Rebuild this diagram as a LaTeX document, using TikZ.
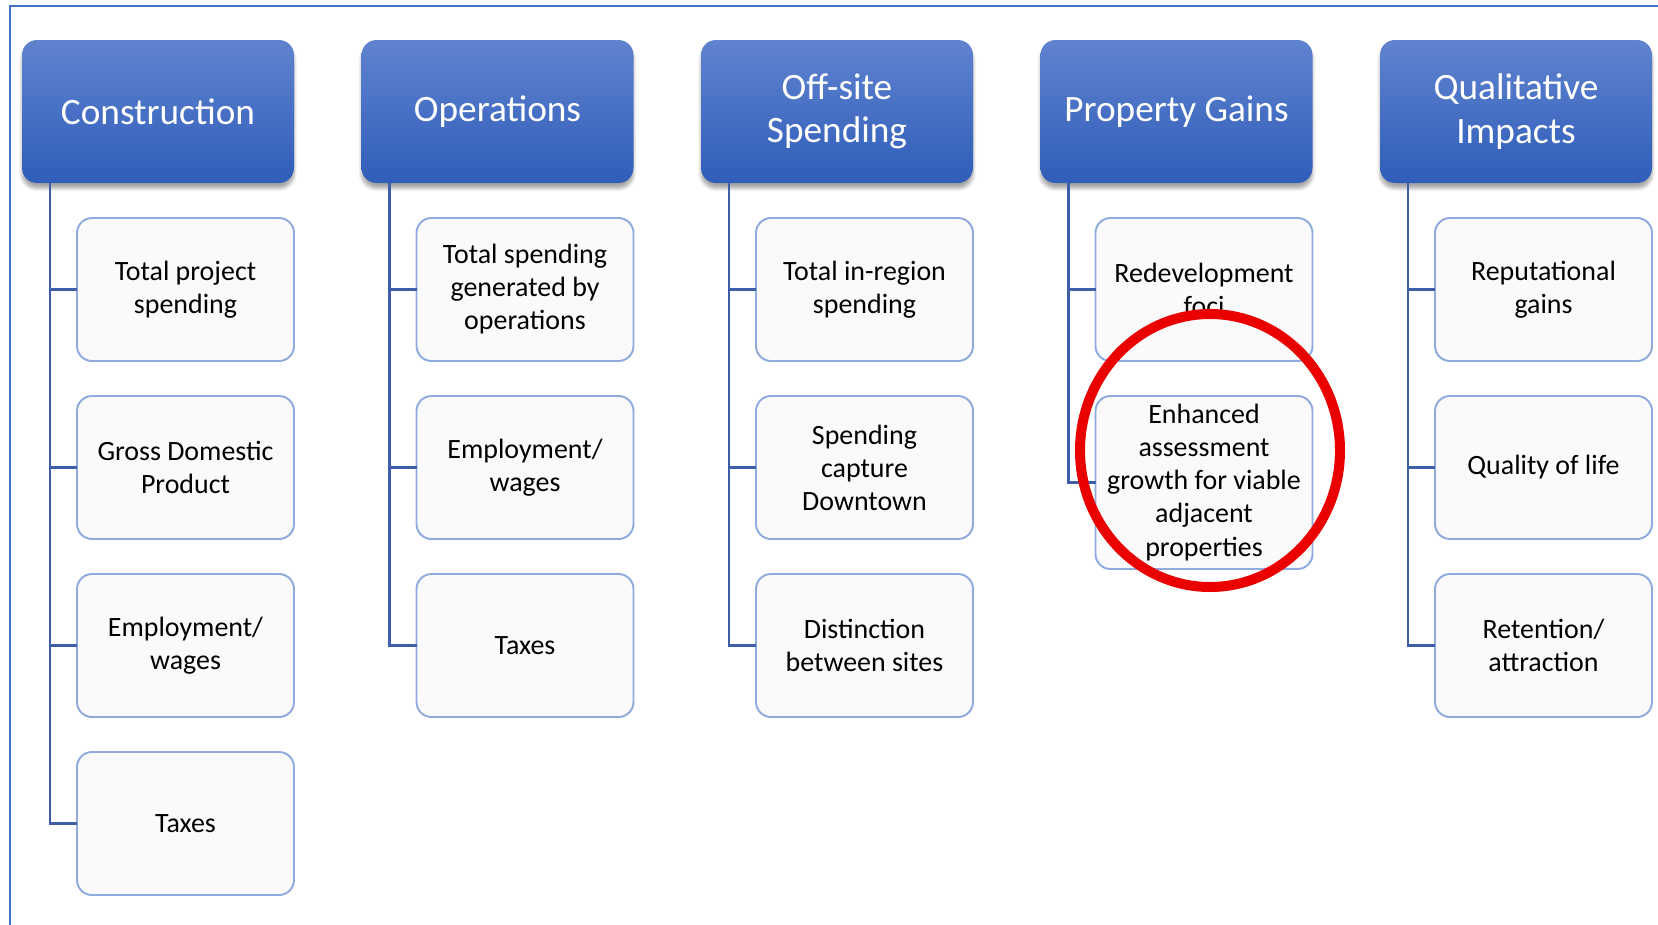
\documentclass[tikz,border=0pt]{standalone}
\usepackage{fontspec}
\setmainfont{Carlito}
\usetikzlibrary{positioning,calc,shadows.blur}
\definecolor{impactFrame}{RGB}{68,114,196}
\definecolor{impactTop}{RGB}{96,131,207}
\definecolor{impactBottom}{RGB}{47,93,185}
\definecolor{impactLink}{RGB}{62,94,170}
\definecolor{impactEdge}{RGB}{143,170,220}
\definecolor{impactFill}{RGB}{250,250,250}
\definecolor{impactRed}{RGB}{235,0,0}

\begin{document}
\begin{tikzpicture}[
  category/.style={
    rounded corners=0.3cm,
    top color=impactTop,
    bottom color=impactBottom,
    text=white,
    minimum width=5.44cm,
    minimum height=2.86cm,
    align=center,
    inner sep=2pt,
    outer sep=0pt,
    font=\fontsize{21.2}{24.7}\selectfont,
    blur shadow={shadow xshift=0pt,shadow yshift=-3pt,shadow blur steps=6,shadow opacity=35}
  },
  item/.style={
    draw=impactEdge,
    line width=1.1pt,
    fill=impactFill,
    rounded corners=0.3cm,
    minimum width=4.34cm,
    minimum height=2.86cm,
    align=center,
    inner sep=2pt,
    outer sep=0pt,
    font=\fontsize{15.9}{18.8}\selectfont
  },
  link/.style={impactLink,line width=1.4pt}
]
  \useasboundingbox (0,0) rectangle (33.16,-18.5);
  \draw[impactFrame,line width=1.1pt] (33.16,-0.12) -- (0.2,-0.12) -- (0.2,-18.5);

  % category headers
  \node[category] (con) at (3.16,-2.23) {Construction};
  \node[category,right=1.35cm of con] (ops) {Operations};
  \node[category,right=1.35cm of ops] (off) {Off-site\\Spending};
  \node[category,right=1.35cm of off] (prop) {Property Gains};
  \node[category,right=1.35cm of prop] (qual) {Qualitative\\Impacts};

  % construction
  \node[item,below left=0.7cm and 0cm of con.south east] (con1) {Total project\\spending};
  \node[item,below=0.7cm of con1] (con2) {Gross Domestic\\Product};
  \node[item,below=0.7cm of con2] (con3) {Employment/\\wages};
  \node[item,below=0.7cm of con3] (con4) {Taxes};

  % operations
  \node[item,below left=0.7cm and 0cm of ops.south east] (ops1) {Total spending\\generated by\\operations};
  \node[item,below=0.7cm of ops1] (ops2) {Employment/\\wages};
  \node[item,below=0.7cm of ops2] (ops3) {Taxes};

  % off-site spending
  \node[item,below left=0.7cm and 0cm of off.south east] (off1) {Total in-region\\spending};
  \node[item,below=0.7cm of off1] (off2) {Spending\\capture\\Downtown};
  \node[item,below=0.7cm of off2] (off3) {Distinction\\between sites};

  % property gains
  \node[item,below left=0.7cm and 0cm of prop.south east] (prop1) {Redevelopment\\foci};
  \node[item,below=0.7cm of prop1,minimum height=3.46cm] (prop2) {Enhanced\\assessment\\growth for viable\\adjacent\\properties};

  % qualitative impacts
  \node[item,below left=0.7cm and 0cm of qual.south east] (qual1) {Reputational\\gains};
  \node[item,below=0.7cm of qual1] (qual2) {Quality of life};
  \node[item,below=0.7cm of qual2] (qual3) {Retention/\\attraction};

  % trunks
  \coordinate (conT) at ($(con.south west)+(0.56,0)$);
  \coordinate (opsT) at ($(ops.south west)+(0.56,0)$);
  \coordinate (offT) at ($(off.south west)+(0.56,0)$);
  \coordinate (propT) at ($(prop.south west)+(0.56,0)$);
  \coordinate (qualT) at ($(qual.south west)+(0.56,0)$);
  \draw[link] (conT) |- (con1.west);
  \draw[link] (conT) |- (con2.west);
  \draw[link] (conT) |- (con3.west);
  \draw[link] (conT) |- (con4.west);
  \draw[link] (opsT) |- (ops1.west);
  \draw[link] (opsT) |- (ops2.west);
  \draw[link] (opsT) |- (ops3.west);
  \draw[link] (offT) |- (off1.west);
  \draw[link] (offT) |- (off2.west);
  \draw[link] (offT) |- (off3.west);
  \draw[link] (propT) |- (prop1.west);
  \draw[link] (propT) |- (prop2.west);
  \draw[link] (qualT) |- (qual1.west);
  \draw[link] (qualT) |- (qual2.west);
  \draw[link] (qualT) |- (qual3.west);

  \draw[impactRed,line width=0.2cm] (24.2,-9.01) ellipse (2.6cm and 2.73cm);
\end{tikzpicture}
\end{document}
